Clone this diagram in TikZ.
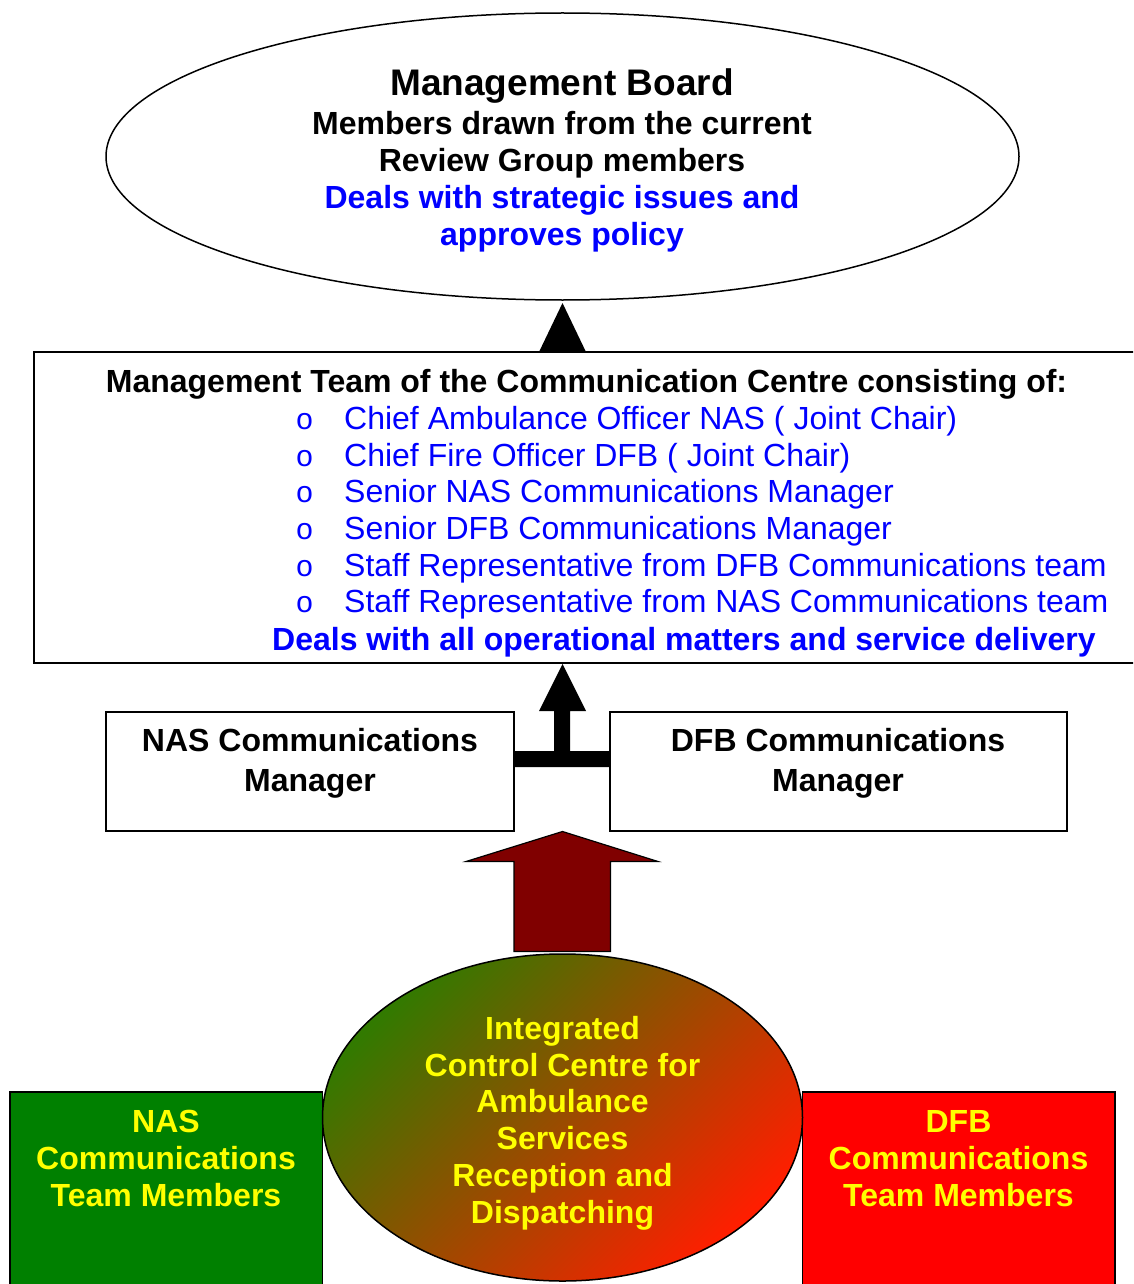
\documentclass[tikz,border=0pt]{standalone}
\usepackage{fontspec}
\setmainfont{Liberation Sans}
\newfontfamily\bulletfont{Liberation Mono}
\usetikzlibrary{shapes.geometric}
\definecolor{maroonarrow}{RGB}{128,0,0}
\definecolor{teamgreen}{RGB}{0,128,0}
\definecolor{textyellow}{RGB}{255,255,0}
\definecolor{textblue}{RGB}{0,0,255}
\definecolor{gradgreen}{RGB}{50,122,0}
\definecolor{gradmid}{RGB}{210,98,0}
\definecolor{gradred}{RGB}{255,30,0}
\tikzset{
  body/.style={font=\fontsize{32}{37}\selectfont\bfseries, inner sep=0pt, anchor=base},
  bodyleft/.style={body, anchor=base west},
  itemtext/.style={font=\fontsize{32}{37}\selectfont, text=textblue, inner sep=0pt, anchor=base west},
  bullet/.style={font=\bulletfont\fontsize{30}{37}\selectfont, text=textblue, inner sep=0pt, anchor=base},
  frame/.style={draw=black, line width=1.5pt},
}
\begin{document}
\begin{tikzpicture}[x=1pt,y=-1pt]
\clip (0,0) rectangle (1133,1284);
\fill[white] (0,0) rectangle (1133,1284);

% Management board
\node[frame, ellipse, minimum width=913pt, minimum height=287pt, inner sep=0pt] (board) at (562.5,156.5) {};
\node[body, font=\fontsize{37}{42}\selectfont\bfseries] (b1) at (562,96) {Management Board};
\node[body] (b2) at (562,134.5) {Members drawn from the current};
\node[body] (b3) at (562,171.5) {Review Group members};
\node[body, text=textblue] (b4) at (562,208.5) {Deals with strategic issues and};
\node[body, text=textblue] (b5) at (562,245.5) {approves policy};

% Management team box
\coordinate (teamNW) at (34,352);
\coordinate (teamSE) at (1150,663);
\draw[frame] (teamNW) rectangle (teamSE);
\node[body] (t0) at (586.5,392.5) {Management Team of the Communication Centre consisting of:};
\foreach \i/\y/\txt in {1/429/{Chief Ambulance Officer NAS ( Joint Chair)},
                        2/466/{Chief Fire Officer DFB ( Joint Chair)},
                        3/502.5/{Senior NAS Communications Manager},
                        4/539/{Senior DFB Communications Manager},
                        5/576/{Staff Representative from DFB Communications team},
                        6/612.5/{Staff Representative from NAS Communications team}}{
  \node[bullet] (o\i) at (304.5,\y) {o};
  \node[itemtext] (i\i) at (344,\y) {\txt};
}
\node[bodyleft, text=textblue] (t7) at (272,650) {Deals with all operational matters and service delivery};

% Arrow from team to board
\fill[black] (539,352) -- (586,352) -- (562.5,303) -- cycle;

% Manager boxes
\draw[frame] (106,712) rectangle (514,831);
\node[body] (nas1) at (310,751.5) {NAS Communications};
\node[body] (nas2) at (310,791) {Manager};
\draw[frame] (610,712) rectangle (1067,831);
\node[body] (dfb1) at (838,751.5) {DFB Communications};
\node[body] (dfb2) at (838,791) {Manager};

% T connector arrow
\fill[black] (514,751) -- (554,751) -- (554,711) -- (539,711) -- (562.5,664)
  -- (586,711) -- (570,711) -- (570,751) -- (610,751) -- (610,767) -- (514,767) -- cycle;

% Maroon block arrow
\draw[line width=1.2pt, fill=maroonarrow, line join=miter] (514,951.5) -- (514,861.5) -- (466,861.5)
  -- (562.5,831.5) -- (658,861.5) -- (610.5,861.5) -- (610.5,951.5) -- cycle;

% Team member boxes
\draw[frame, fill=teamgreen] (10,1092) rectangle (322.5,1300);
\node[body, text=textyellow] (nt1) at (166,1132.5) {NAS};
\node[body, text=textyellow] (nt2) at (166,1169.5) {Communications};
\node[body, text=textyellow] (nt3) at (166,1206.5) {Team Members};
\draw[frame, fill=red] (802.5,1092) rectangle (1115,1300);
\node[body, text=textyellow] (dt1) at (958.5,1132.5) {DFB};
\node[body, text=textyellow] (dt2) at (958.5,1169.5) {Communications};
\node[body, text=textyellow] (dt3) at (958.5,1206.5) {Team Members};

% Integrated control centre ellipse
\node[frame, ellipse, minimum width=480pt, minimum height=327pt, inner sep=0pt,
      top color=gradgreen, middle color=gradmid, bottom color=gradred, shading angle=45] (icc) at (562.5,1117.5) {};
\node[body, text=textyellow] (c1) at (562.5,1039) {Integrated};
\node[body, text=textyellow] (c2) at (562.5,1076) {Control Centre for};
\node[body, text=textyellow] (c3) at (562.5,1112.5) {Ambulance};
\node[body, text=textyellow] (c4) at (562.5,1149.5) {Services};
\node[body, text=textyellow] (c5) at (562.5,1186) {Reception and};
\node[body, text=textyellow] (c6) at (562.5,1223) {Dispatching};
\end{tikzpicture}
\end{document}
